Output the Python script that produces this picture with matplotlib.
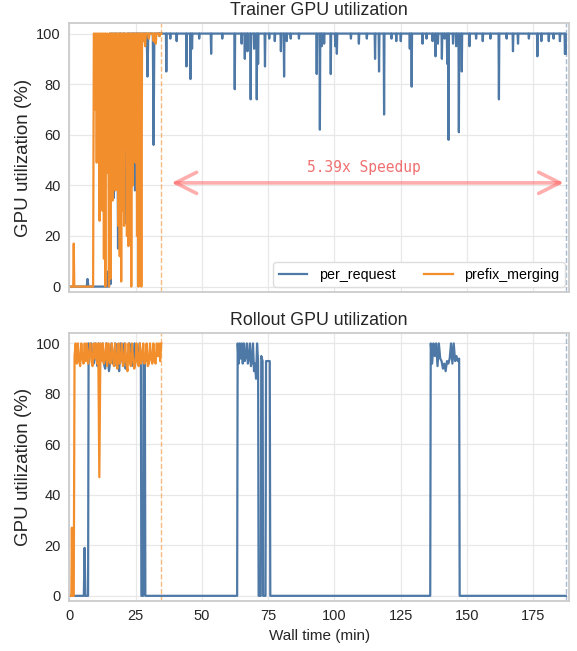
import numpy as np
import matplotlib
matplotlib.use("Agg")
import matplotlib.pyplot as plt

plt.rcParams['font.family'] = ['Liberation Sans', 'DejaVu Sans']

blue = '#4e79a7'
orange = '#f28e2b'

# trainer, per_request: ramp-up phase (time, util)
train_req_start = [
	(0, 0), (6.6, 0), (6.9, 3), (7.2, 0), (14.4, 0), (14.7, 6), (15.0, 0),
	(15.3, 100), (15.6, 1), (15.9, 100), (16.2, 40), (16.5, 100), (16.8, 35),
	(17.1, 100), (17.4, 60), (17.7, 100), (18.0, 100), (18.4, 15), (18.8, 100),
	(19.6, 100), (20.0, 72), (20.4, 100), (21.0, 100), (21.5, 25), (22.0, 100),
	(22.8, 100), (23.1, 97), (23.4, 100), (24.5, 100), (24.8, 38), (25.1, 100),
	(27.0, 100), (27.3, 98), (27.6, 100), (29.2, 100), (29.5, 83), (29.8, 100),
	(31.5, 100), (31.8, 56), (32.1, 100),
]
# trainer, per_request: dips below 100 % after the ramp-up (time, util)
train_req_dips = [
	(34.0, 99), (36.6, 85), (38.1, 98), (40.5, 97), (44.2, 87), (45.7, 82), (46.3, 94),
	(49.0, 98), (53.5, 92), (57.7, 98), (62.4, 78), (65.0, 96), (66.2, 90),
	(67.2, 93), (68.4, 74), (69.7, 94), (70.7, 74), (71.2, 88), (73.8, 87),
	(75.4, 98), (77.5, 97), (79.8, 93), (81.0, 83), (82.0, 97), (83.5, 98),
	(86.6, 98), (93.3, 84), (94.5, 62), (95.2, 95), (96.1, 96), (98.6, 84),
	(100.3, 95), (100.9, 92), (106.2, 98), (109.2, 96), (112.2, 98), (115.3, 90),
	(116.8, 85), (118.7, 68), (121.5, 98), (123.3, 97), (125.0, 97), (128.4, 94),
	(129.1, 79), (133.2, 96), (134.7, 98), (137.0, 97), (138.1, 91), (139.0, 96),
	(140.5, 90), (141.5, 98), (142.5, 88), (143.0, 58), (144.7, 96), (145.9, 95),
	(146.9, 61), (148.0, 85), (150.9, 95), (153.4, 98), (155.9, 97), (158.8, 98),
	(162.0, 74), (164.9, 98), (167.3, 93), (169.2, 96), (173.3, 98), (176.5, 91),
	(178.0, 97), (180.8, 97), (182.6, 98), (185.0, 97), (186.9, 92),
]
train_req_end = 187.2

# trainer, prefix_merging
train_mrg_start = [(0, 0), (1.5, 0), (1.7, 17), (1.9, 0)]
train_mrg_chaos = [  # 9.0 .. 28.0 min
	0, 100, 100, 70, 100, 49, 100, 90, 100, 26,
	100, 60, 100, 30, 100, 11, 100, 0, 100, 45,
	100, 85, 0, 100, 3, 100, 100, 34, 100, 50,
	100, 38, 100, 44, 100, 24, 100, 12, 100, 2,
	100, 30, 100, 24, 100, 55, 100, 20, 100, 16,
	100, 60, 100, 0, 100, 40, 100, 71, 100, 49,
	100, 20, 100, 0, 100, 65, 100, 0, 100, 97, 100,
]
train_mrg_tail = [
	(28.3, 100), (28.6, 95), (28.9, 100), (29.7, 100), (30.0, 98), (30.3, 100),
	(31.5, 100), (31.8, 97), (32.1, 100), (32.4, 100), (32.6, 96), (32.9, 100),
	(33.8, 100), (34.1, 99), (34.4, 100), (34.7, 100),
]
train_mrg_end = 34.7

# rollout, per_request
roll_req_band1 = [  # 7.3 .. 27.0 min
	100, 95, 100, 93, 92, 100, 94, 91, 100, 93, 95, 100, 92, 90, 100, 94,
	89, 93, 100, 92, 95, 100, 91, 93, 89, 100, 94, 92, 100, 90, 93, 95,
	100, 92, 94, 91, 100, 93, 95, 92, 100, 94,
]
roll_req_band2 = [  # 63.5 .. 71.2 min
	100, 92, 100, 94, 100, 92, 100, 93, 95, 100, 92, 94, 100, 91, 93, 100,
	89, 92, 86, 100, 93,
]
roll_req_band3 = [  # 136.3 .. 147.0 min
	100, 92, 100, 95, 100, 91, 100, 94, 93, 90, 92, 89, 93, 92, 94, 100,
	92, 100, 93, 95, 93, 94,
]
roll_req_steps = [  # (time, util) joining the bands
	(0, 0), (5.5, 0), (5.8, 19), (6.1, 0), (7.1, 0),
	(27.2, 0), (27.9, 0), (28.0, 95), (28.5, 93), (28.7, 0), (63.3, 0),
	(71.4, 0), (72.2, 0), (72.4, 95), (72.9, 93), (73.1, 0), (74.0, 0),
	(74.2, 93), (75.6, 93), (75.8, 0), (136.1, 0),
	(147.2, 0), (187.2, 0),
]

# rollout, prefix_merging
roll_mrg_start = [(0, 0), (0.8, 0), (1.0, 27), (1.2, 0), (1.7, 0)]
roll_mrg_band = [  # 2.0 .. 34.7 min
	95, 100, 92, 100, 93, 91, 100, 94, 92, 100, 93, 100, 92, 95, 100, 93,
	91, 100, 94, 100, 92, 100, 47, 100, 93, 100, 92, 94, 100, 91, 100, 93,
	92, 100, 95, 91, 100, 93, 90, 100, 92, 94, 100, 91, 93, 100, 92, 89,
	100, 93, 91, 100, 94, 90, 92, 100, 93, 91, 100, 92, 94, 100, 92, 93,
	100, 91, 92, 100, 94, 92, 100, 93, 92, 100, 95, 100, 93, 100,
]

speedup = '5.39x Speedup'


def band(t0, t1, vals):
	return list(zip(np.linspace(t0, t1, len(vals)), vals))


def with_dips(points, dips, end, w=0.15):
	pts = list(points)
	for t, v in dips:
		pts += [(t - w, 100), (t, v), (t + w, 100)]
	pts.append((end, 92))
	return sorted(pts)


def xy(points):
	t, v = zip(*sorted(points))
	return np.array(t), np.array(v)


tr_req = xy(with_dips(train_req_start, train_req_dips, train_req_end))
tr_mrg = xy(train_mrg_start + band(9.0, 28.0, train_mrg_chaos) + train_mrg_tail)
ro_req = xy(roll_req_steps + band(7.3, 27.0, roll_req_band1)
	+ band(63.5, 71.2, roll_req_band2) + band(136.3, 147.0, roll_req_band3))
ro_mrg = xy(roll_mrg_start + band(2.0, 34.7, roll_mrg_band))

fig = plt.figure(figsize=(5.77, 6.51), dpi=100)
ax1 = fig.add_axes([0.12, 0.552, 0.8665, 0.412])
ax2 = fig.add_axes([0.12, 0.077, 0.8665, 0.411])

for ax in (ax1, ax2):
	ax.set_xlim(0, 188.5)
	ax.set_ylim(-2, 104)
	ax.set_xticks([0, 25, 50, 75, 100, 125, 150, 175])
	ax.set_yticks([0, 20, 40, 60, 80, 100])
	ax.grid(True, color='#e8e8e8', lw=0.9)
	ax.set_axisbelow(True)
	for s in ax.spines.values():
		s.set_color('#cccccc')
		s.set_linewidth(1.3)
	ax.tick_params(length=0, pad=6, labelsize=10.5, colors='#262626')
	ax.set_ylabel('GPU utilization (%)', fontsize=13.5, color='#262626', labelpad=3)
	ax.axvline(train_mrg_end, color=orange, ls='--', lw=1, alpha=0.6)
	ax.axvline(train_req_end, color=blue, ls='--', lw=1, alpha=0.5)

ax1.tick_params(labelbottom=False)

ax1.plot(*tr_req, color=blue, lw=1.6, label='per_request')
ax1.plot(*tr_mrg, color=orange, lw=1.6, label='prefix_merging')
ax1.set_title('Trainer GPU utilization', fontsize=12.8, color='#262626', pad=6)
ax1.legend(loc='lower right', ncol=2, fontsize=10.3, borderaxespad=0.3,
	edgecolor='#dddddd', framealpha=1)

ax1.annotate('', xy=(train_mrg_end + 2.8, 41), xytext=(train_req_end + 0.3, 41),
	arrowprops=dict(arrowstyle='<->', color='#ff4d4d', alpha=0.45, lw=2.6,
		mutation_scale=38))
ax1.text((train_mrg_end + train_req_end) / 2, 47, speedup, ha='center', va='center',
	family='DejaVu Sans Mono', fontsize=10.5, color='#f07070')

ax2.plot(*ro_req, color=blue, lw=1.6)
ax2.plot(*ro_mrg, color=orange, lw=1.6)
ax2.set_title('Rollout GPU utilization', fontsize=12.8, color='#262626', pad=6)
ax2.set_xlabel('Wall time (min)', fontsize=11, color='#262626')

fig.savefig('out.png', dpi=100)
